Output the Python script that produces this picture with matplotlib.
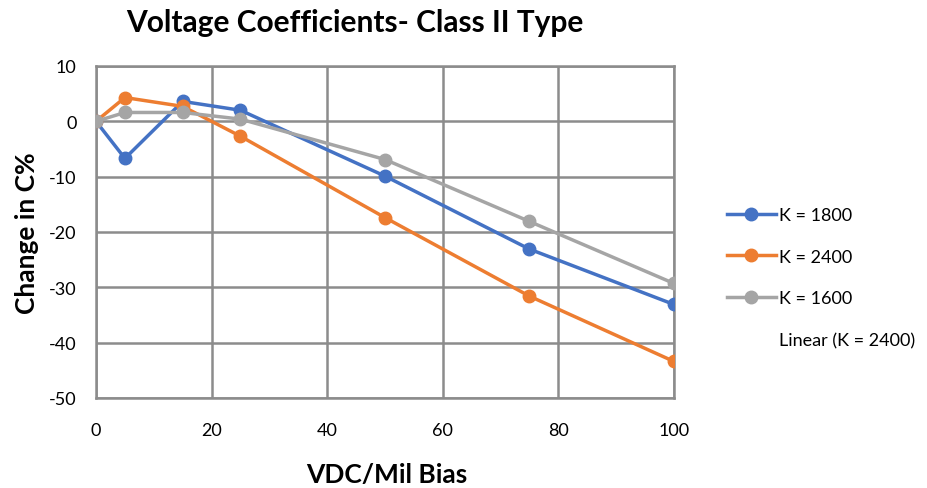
import matplotlib
matplotlib.use("Agg")
import matplotlib.pyplot as plt
from matplotlib.lines import Line2D

plt.rcParams['font.family'] = ['Lato', 'DejaVu Sans']
plt.rcParams['axes.unicode_minus'] = False

x_vals = [0, 5, 15, 25, 50, 75, 100]
k1800 = [0, -6.7, 3.6, 2.0, -9.9, -23.1, -33.1]
k2400 = [0, 4.3, 2.7, -2.7, -17.4, -31.6, -43.4]
k1600 = [0, 1.6, 1.6, 0.4, -6.9, -18.1, -29.3]
series_names = ["K = 1800", "K = 2400", "K = 1600"]
trend_name = "Linear (K = 2400)"
colors = ["#4472C4", "#ED7D31", "#A5A5A5"]
title = "Voltage Coefficients- Class II Type"
xlabel = "VDC/Mil Bias"
ylabel = "Change in C%"

W, H = 928, 489
fig = plt.figure(figsize=(W/100, H/100), dpi=100)
ax = fig.add_axes([96/W, 1-399/H, (674-96)/W, (399-67)/H])

for ys, c, n in zip([k1800, k2400, k1600], colors, series_names):
    ax.plot(x_vals, ys, color=c, lw=2.5, marker='o', ms=9, label=n, zorder=3)

ax.set_xlim(0, 100)
ax.set_ylim(-50, 10)
ax.set_xticks(range(0, 101, 20))
ax.set_yticks(range(-50, 11, 10))
ax.grid(True, color='#8c8c8c', lw=1.8)
ax.set_axisbelow(True)
for s in ax.spines.values():
    s.set_color('#8c8c8c')
    s.set_linewidth(1.8)
ax.tick_params(length=0, labelsize=13, colors='black')
ax.tick_params(axis='y', pad=14)
ax.tick_params(axis='x', pad=17)

ax.set_xlabel(xlabel, fontsize=19, fontweight='bold')
ax.xaxis.set_label_coords((387-96)/578, (399-475)/332)
ax.xaxis.label.set_va('center')
ax.set_ylabel(ylabel, fontsize=19, fontweight='bold')
ax.yaxis.set_label_coords((27-96)/578, 0.5)
ax.yaxis.label.set_va('center')
fig.text(355/W, 1-23/H, title, fontsize=21.5, fontweight='bold', ha='center', va='center')

handles, labels = ax.get_legend_handles_labels()
handles.append(Line2D([], [], color='none'))
labels.append(trend_name)
leg = fig.legend(handles, labels, loc='upper left', bbox_to_anchor=(727/W, 1-208/H),
                 frameon=False, fontsize=13, handlelength=2.7, handletextpad=0.2,
                 labelspacing=1.42, borderaxespad=0, borderpad=0)

fig.savefig("out.png", dpi=100)
